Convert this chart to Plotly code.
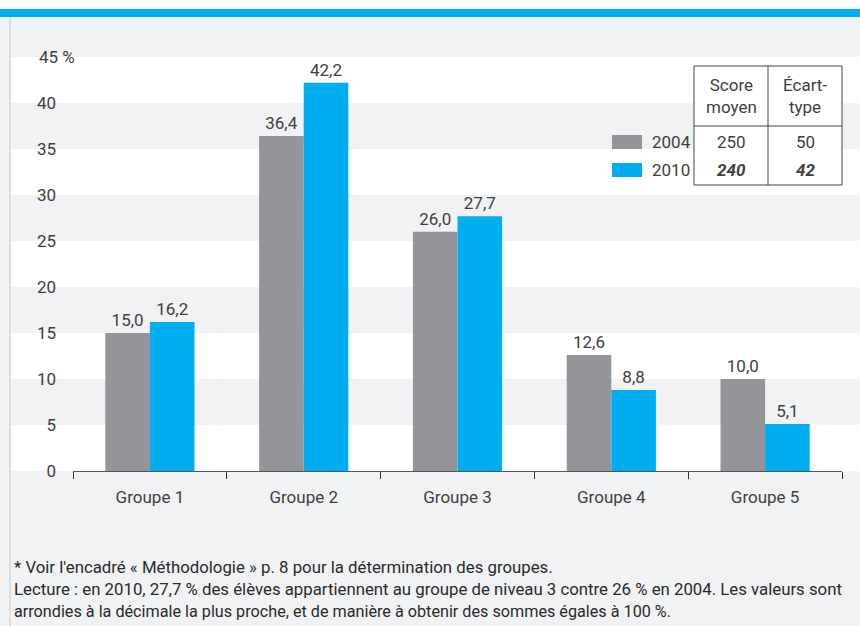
import plotly.graph_objects as go

categories = ["Groupe 1", "Groupe 2", "Groupe 3", "Groupe 4", "Groupe 5"]
series_names = ["2004", "2010"]
values_2004 = [15.0, 36.4, 26.0, 12.6, 10.0]
values_2010 = [16.2, 42.2, 27.7, 8.8, 5.1]
y_ticks = [0, 5, 10, 15, 20, 25, 30, 35, 40]
table_header = ["Score<br>moyen", "Écart-<br>type"]
table_2004 = ["250", "50"]
table_2010 = ["240", "42"]
footnotes = [
    "* Voir l'encadré « Méthodologie » p. 8 pour la détermination des groupes.",
    "Lecture : en 2010, 27,7 % des élèves appartiennent au groupe de niveau 3 contre 26 % en 2004. Les valeurs sont",
    "arrondies à la décimale la plus proche, et de manière à obtenir des sommes égales à 100 %.",
]
footnote_sizes = [16.8, 16.8, 16.2]

GREY = "#939598"
BLUE = "#00aeef"
BG = "#f1f2f4"
TXT = "#404040"
FONT = "Roboto, Liberation Sans, sans-serif"
FS = 17
WT = 400

W, H = 860, 626
L, R, T, B = 73, 18, 57, 155
PW, PH = W - L - R, H - T - B


def px(x):
    return (x - L) / PW


def py(y):
    return (H - B - y) / PH


fig = go.Figure()
fig.add_bar(x=categories, y=values_2004, name=series_names[0], marker_color=GREY,
            marker_line_width=0, texttemplate="%{y:.1f}", textposition="outside",
            textfont=dict(size=FS, color=TXT, family=FONT, weight=WT), cliponaxis=False)
fig.add_bar(x=categories, y=values_2010, name=series_names[1], marker_color=BLUE,
            marker_line_width=0, texttemplate="%{y:.1f}", textposition="outside",
            textfont=dict(size=FS, color=TXT, family=FONT, weight=WT), cliponaxis=False)

shapes = []
shapes.append(dict(type="rect", xref="paper", yref="paper", x0=px(0), x1=px(W), y0=py(0), y1=py(9),
                   fillcolor="white", line_width=0, layer="below"))
shapes.append(dict(type="rect", xref="paper", yref="paper", x0=px(0), x1=px(W), y0=py(9), y1=py(17),
                   fillcolor=BLUE, line_width=0, layer="below"))
shapes.append(dict(type="rect", xref="paper", yref="paper", x0=px(9), x1=px(11), y0=py(17), y1=py(H),
                   fillcolor="#dcdde0", line_width=0, layer="below"))
for lo in range(0, 45, 10):
    shapes.append(dict(type="rect", xref="paper", yref="y", x0=px(11), x1=px(W), y0=lo, y1=lo + 5,
                       fillcolor="white", line_width=0, layer="below"))
shapes.append(dict(type="rect", xref="paper", yref="paper", x0=px(694), x1=px(842), y0=py(66), y1=py(185),
                   fillcolor="white", line=dict(color="#444", width=1), layer="above"))
shapes.append(dict(type="line", xref="paper", yref="paper", x0=px(768), x1=px(768), y0=py(66), y1=py(185),
                   line=dict(color="#444", width=1), layer="above"))
shapes.append(dict(type="line", xref="paper", yref="paper", x0=px(694), x1=px(842), y0=py(126), y1=py(126),
                   line=dict(color="#444", width=1), layer="above"))
shapes.append(dict(type="rect", xref="paper", yref="paper", x0=px(612), x1=px(642), y0=py(135), y1=py(149),
                   fillcolor=GREY, line_width=0, layer="above"))
shapes.append(dict(type="rect", xref="paper", yref="paper", x0=px(612), x1=px(642), y0=py(163), y1=py(177),
                   fillcolor=BLUE, line_width=0, layer="above"))

ann = []


def txt(x, y, s, size=FS, xanchor="center", yanchor="middle", weight=WT, color=TXT):
    ann.append(dict(xref="paper", yref="paper", x=px(x), y=py(y), text=s, showarrow=False,
                    xanchor=xanchor, yanchor=yanchor,
                    font=dict(size=size, color=color, family=FONT, weight=weight)))


txt(37, 57, "45 %", xanchor="left")
txt(731, 96, table_header[0])
txt(805, 96, table_header[1])
txt(731, 142, table_2004[0])
txt(805, 142, table_2004[1])
txt(731, 170, "<b><i>" + table_2010[0] + "</i></b>")
txt(805, 170, "<b><i>" + table_2010[1] + "</i></b>")
txt(650, 142, series_names[0], xanchor="left")
txt(650, 170, series_names[1], xanchor="left")
for i, line in enumerate(footnotes):
    txt(12, 567 + 22 * i, line, size=footnote_sizes[i], xanchor="left", weight=400, color="#2a2a2a")

fig.update_layout(
    width=W, height=H, margin=dict(l=L, r=R, t=T, b=B, pad=0),
    paper_bgcolor=BG, plot_bgcolor=BG,
    barmode="group", bargap=0.42, bargroupgap=0,
    separators=", ",
    showlegend=False,
    shapes=shapes, annotations=ann,
    font=dict(family=FONT, size=FS, color=TXT, weight=WT),
    xaxis=dict(showline=True, linecolor="#555", linewidth=1, ticks="outside", tickson="boundaries",
               ticklen=7, tickcolor="#333", ticklabelstandoff=11,
               tickfont=dict(size=FS, color=TXT, family=FONT, weight=WT),
               showgrid=False, zeroline=False),
    yaxis=dict(range=[0, 45], tickvals=y_ticks, showgrid=False, zeroline=False, showline=False,
               ticks="", ticklabelstandoff=16,
               tickfont=dict(size=FS, color=TXT, family=FONT, weight=WT)),
)

fig.write_html("out.html", config={"displayModeBar": False},
               post_script="document.body.style.margin='0';")
